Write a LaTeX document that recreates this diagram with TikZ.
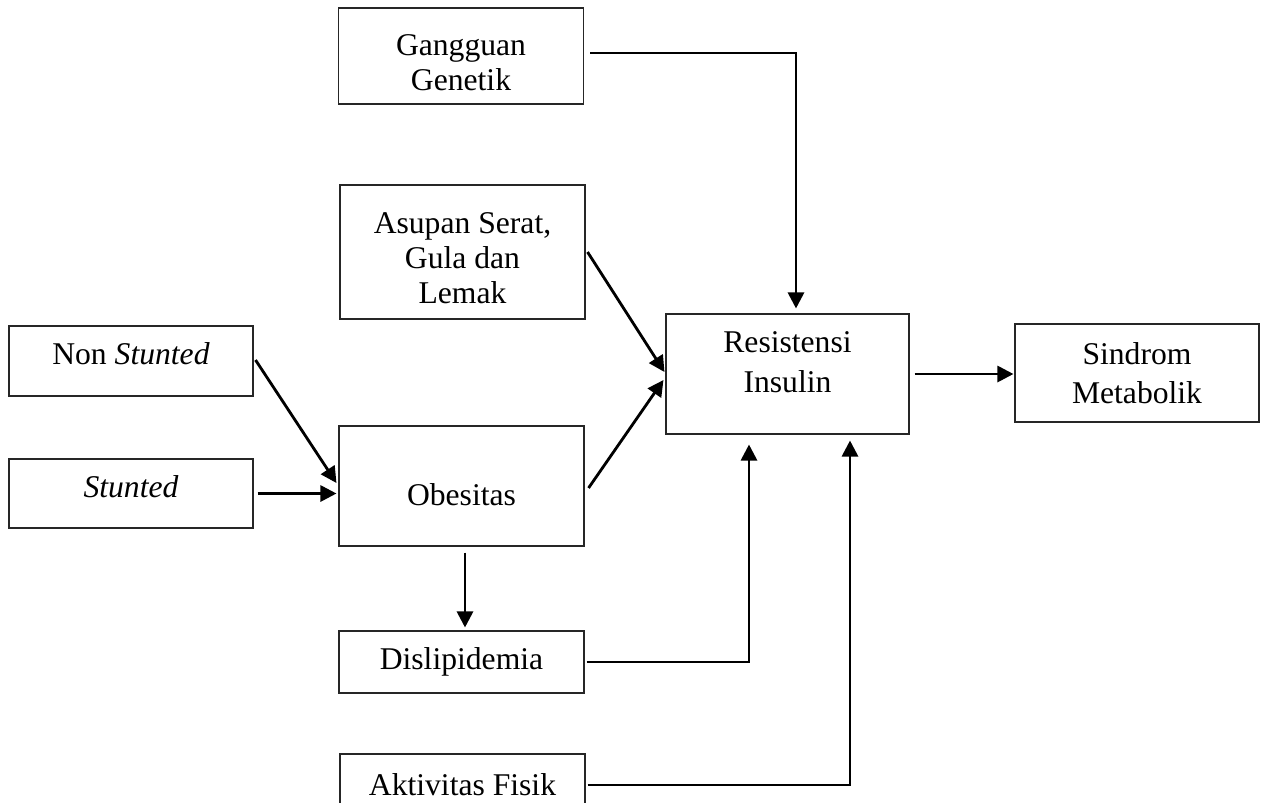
\documentclass[tikz,border=0pt]{standalone}
\usepackage{fontspec}
\setmainfont{Liberation Serif}
\usepackage{tikz}
\usetikzlibrary{arrows.meta,positioning,calc}

\begin{document}
\begin{tikzpicture}[
    box/.style={rectangle, draw=black!85, line width=0.6pt, align=center, inner sep=0pt,
        minimum width=4.9cm, font=\fontsize{18}{20}\selectfont},
    wide/.style={font=\fontsize{18}{22.5}\selectfont},
    link/.style={-{Triangle[length=0.32cm, width=0.32cm]}, line width=1.6pt}
]

\useasboundingbox (0,0) rectangle (25.22,-16.04);

% Middle column
\node[box, minimum height=1.92cm] (gen) at (9.22,-1.12) {\rule{0pt}{0.68cm}Gangguan\\Genetik};
\node[box, minimum height=2.68cm] (asupan) at (9.25,-5.04) {\rule{0pt}{0.68cm}Asupan Serat,\\Gula dan\\Lemak};
\node[box, minimum height=2.4cm, text height=0.8cm] (obes) at (9.23,-9.72) {Obesitas};
\node[box, minimum height=1.24cm] (dis) at (9.23,-13.24) {Dislipidemia};
\node[box, minimum height=1.24cm] (akt) at (9.25,-15.7) {Aktivitas Fisik};

% Left column
\node[box, minimum width=4.88cm, minimum height=1.4cm, text depth=0.3cm] (nonst) at (2.62,-7.22) {Non \textit{Stunted}};
\node[box, minimum width=4.88cm, minimum height=1.38cm, text depth=0.26cm] (stunt) at (2.62,-9.87) {\textit{Stunted}};

% Right side
\node[box, wide, minimum width=4.86cm, minimum height=2.4cm, text depth=0.48cm] (res) at (15.75,-7.48) {Resistensi\\Insulin};
\node[box, wide, minimum width=4.88cm, minimum height=1.96cm] (sind) at (22.74,-7.46) {Sindrom\\Metabolik};

% Connectors
\draw[link] ([xshift=0.12cm, yshift=0.06cm]gen.east) -| ([xshift=0.17cm, yshift=0.1cm]res.north);
\draw[link] ([xshift=0.04cm]asupan.east) -- ([xshift=-0.02cm, yshift=0.04cm]res.west);
\draw[link] ([xshift=0.08cm, yshift=-0.04cm]obes.east) -- ([xshift=-0.04cm, yshift=-0.12cm]res.west);
\draw[link] ([xshift=0.04cm, yshift=0.02cm]nonst.east) -- ([xshift=-0.04cm, yshift=0.06cm]obes.west);
\draw[link] ([xshift=0.08cm]stunt.east) -- ([xshift=-0.04cm]stunt.east -| obes.west);
\draw[link] ([xshift=0.07cm, yshift=-0.12cm]obes.south) -- ([xshift=0.07cm, yshift=0.06cm]dis.north);
\draw[link] ([xshift=0.04cm]dis.east) -| ([xshift=-0.77cm, yshift=-0.2cm]res.south);
\draw[link] ([xshift=0.04cm]akt.east) -| ([xshift=1.25cm, yshift=-0.12cm]res.south);
\draw[link] ([xshift=0.1cm]res.east) -- ([xshift=-0.02cm]res.east -| sind.west);

\end{tikzpicture}
\end{document}
